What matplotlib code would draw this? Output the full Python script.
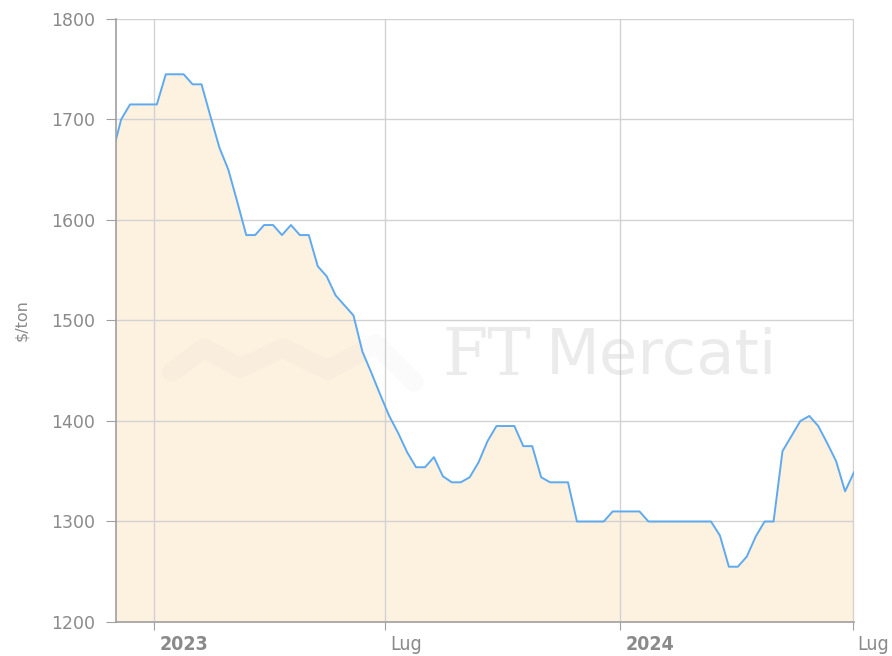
import numpy as np
import pandas as pd
import matplotlib
matplotlib.use("Agg")
import matplotlib.pyplot as plt
import matplotlib.dates as mdates
from matplotlib.transforms import offset_copy

# weekly prices, $/ton
dates = pd.date_range("2022-11-29", periods=84, freq="7D")
prices = [
    1665, 1700, 1715, 1715, 1715, 1715, 1745, 1745, 1745, 1735,
    1735, 1703, 1672, 1650, 1618, 1585, 1585, 1595, 1595, 1585,
    1595, 1585, 1585, 1554, 1544, 1525, 1515, 1505, 1469, 1448,
    1426, 1405, 1388, 1369, 1354, 1354, 1364, 1345, 1339, 1339,
    1344, 1359, 1380, 1395, 1395, 1395, 1375, 1375, 1344, 1339,
    1339, 1339, 1300, 1300, 1300, 1300, 1310, 1310, 1310, 1310,
    1300, 1300, 1300, 1300, 1300, 1300, 1300, 1300, 1286, 1255,
    1255, 1265, 1285, 1300, 1300, 1370, 1385, 1400, 1405, 1395,
    1378, 1360, 1330, 1349,
]
tick_dates = pd.to_datetime(["2023-01-01", "2023-07-01", "2024-01-01", "2024-07-01"])
tick_labels = ["2023", "Lug", "2024", "Lug"]
tick_bold = [True, False, True, False]

W, H = 892, 656
fig = plt.figure(figsize=(W / 100, H / 100), dpi=100)
ax = fig.add_axes([116 / W, 1 - 622 / H, (854 - 116) / W, (622 - 19) / H])

ax.fill_between(dates, prices, 1200, color="#fdf1e0", lw=0, zorder=1)
ax.plot(dates, prices, color="#5eaaf0", lw=1.4, zorder=4)

# faint watermark (logo + name), in pixel positions
logo_x = np.array([172, 204, 240, 283, 328, 376, 414])
logo_y = np.array([372, 348, 368, 348, 370, 344, 382])
ax.plot(logo_x / W, 1 - logo_y / H, transform=fig.transFigure, color="#9a9a9a",
        lw=14, alpha=0.04, solid_capstyle="round", solid_joinstyle="round", zorder=3)
fig.text(442 / W, 1 - 357 / H, "FT", ha="left", va="center", fontsize=47,
         family="DejaVu Serif", color="#c0c0c0", alpha=0.3, zorder=3)
fig.text(546 / W, 1 - 357 / H, "Mercati", ha="left", va="center", fontsize=45,
         family="DejaVu Sans", color="#c0c0c0", alpha=0.3, zorder=3)

ax.set_xlim(pd.Timestamp("2022-12-02"), dates[-1])
ax.set_ylim(1200, 1800)
ax.set_yticks(np.arange(1200, 1801, 100))
ax.set_xticks(tick_dates)
ax.set_xticklabels([])

ax.grid(True, color="#d2d2d2", lw=1, zorder=2)
ax.set_axisbelow(False)
for s in ["top", "right"]:
    ax.spines[s].set_visible(False)
for s in ["left", "bottom"]:
    ax.spines[s].set_color("#a0a0a0")
    ax.spines[s].set_linewidth(1.2)
    ax.spines[s].set_zorder(5)

ax.tick_params(axis="y", length=7, color="#a0a0a0", labelcolor="#8a8a8a", labelsize=12.5, pad=8)
ax.tick_params(axis="x", length=6, color="#a0a0a0")

trans = offset_copy(ax.get_xaxis_transform(), fig=fig, x=5, y=0, units="dots")
for d, lab, b in zip(tick_dates, tick_labels, tick_bold):
    ax.text(mdates.date2num(d), -0.022, lab, transform=trans,
            ha="left", va="top", fontsize=14, color="#8a8a8a",
            fontweight="bold" if b else "normal", fontstretch="condensed")

ax.set_ylabel(r"\$/ton", color="#8a8a8a", fontsize=11.5, labelpad=16)

fig.savefig("out.png", dpi=100)
